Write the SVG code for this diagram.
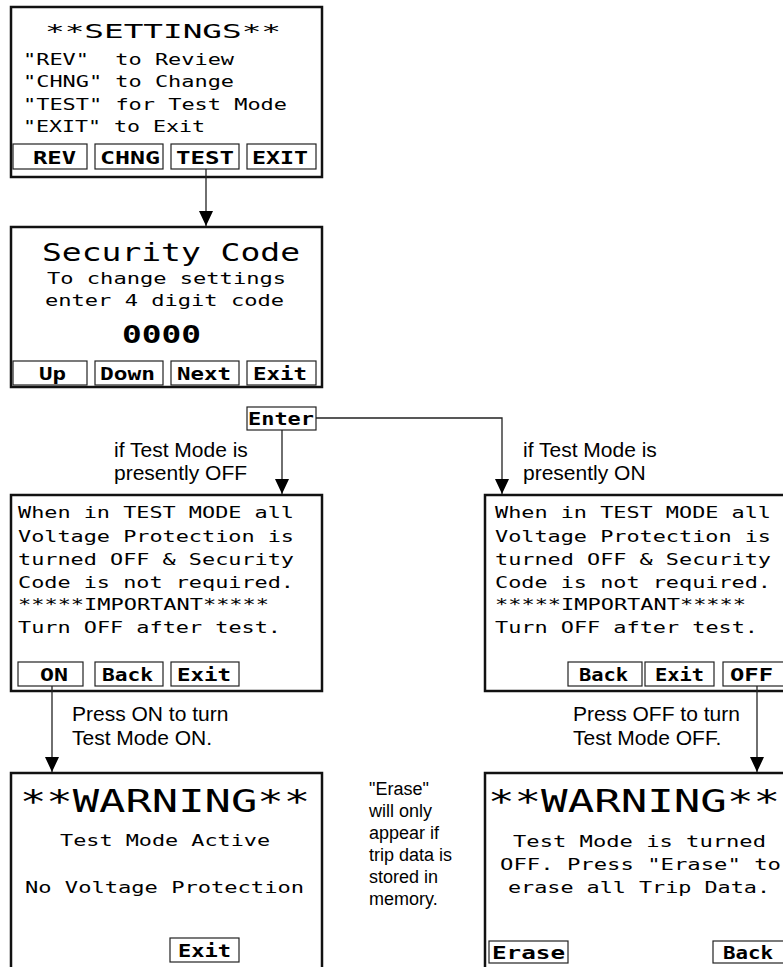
<svg xmlns="http://www.w3.org/2000/svg" width="783" height="967" viewBox="0 0 783 967">
<style>
.scr{fill:#fff;stroke:#111;stroke-width:2.5}
.btn{fill:#fff;stroke:#222;stroke-width:1.2}
.lcd{font-family:"DejaVu Sans Mono","Liberation Mono",monospace;font-size:16px;fill:#000}
.lcdb{font-family:"DejaVu Sans Mono","Liberation Mono",monospace;font-size:18px;font-weight:bold;fill:#000}
.t20{font-size:20px}
.t24{font-size:24px}
.t32{font-size:32px}
.note{font-family:"Liberation Sans",Arial,sans-serif;font-size:21px;fill:#000}
.note18{font-family:"Liberation Sans",Arial,sans-serif;font-size:18px;fill:#000}
.con{fill:none;stroke:#222;stroke-width:1.3}
</style>
<defs>
<marker id="arr" markerUnits="userSpaceOnUse" viewBox="0 0 15 14" refX="15" refY="7" markerWidth="15" markerHeight="14" orient="auto">
<path d="M0,0 L15,7 L0,14 z" fill="#000"/>
</marker>
</defs>
<rect width="783" height="967" fill="#fff"/>

<g id="settings">
<rect class="scr" x="11" y="7" width="311" height="170"/>
<text class="lcd t20" x="45" y="38" textLength="236" lengthAdjust="spacingAndGlyphs">**SETTINGS**</text>
<text class="lcd" x="23" y="65" xml:space="preserve" textLength="211" lengthAdjust="spacingAndGlyphs">"REV"  to Review</text>
<text class="lcd" x="23" y="87" textLength="211" lengthAdjust="spacingAndGlyphs">"CHNG" to Change</text>
<text class="lcd" x="23" y="110" textLength="264" lengthAdjust="spacingAndGlyphs">"TEST" for Test Mode</text>
<text class="lcd" x="23" y="132" textLength="182" lengthAdjust="spacingAndGlyphs">"EXIT" to Exit</text>
<rect class="btn" x="13" y="144" width="74" height="25"/>
<rect class="btn" x="95" y="144" width="68" height="25"/>
<rect class="btn" x="171" y="144" width="68" height="25"/>
<rect class="btn" x="247" y="144" width="69" height="25"/>
<text class="lcdb" x="33" y="164" textLength="43" lengthAdjust="spacingAndGlyphs">REV</text>
<text class="lcdb" x="100" y="164" textLength="60" lengthAdjust="spacingAndGlyphs">CHNG</text>
<text class="lcdb" x="176" y="164" textLength="58" lengthAdjust="spacingAndGlyphs">TEST</text>
<text class="lcdb" x="252" y="164" textLength="56" lengthAdjust="spacingAndGlyphs">EXIT</text>
</g>

<g id="security">
<rect class="scr" x="11" y="227" width="311" height="160"/>
<text class="lcd t24" x="42" y="261" textLength="258" lengthAdjust="spacingAndGlyphs">Security Code</text>
<text class="lcd" x="47" y="284" textLength="239" lengthAdjust="spacingAndGlyphs">To change settings</text>
<text class="lcd" x="45" y="306" textLength="239" lengthAdjust="spacingAndGlyphs">enter 4 digit code</text>
<text class="lcdb t24" x="122" y="343" textLength="79" lengthAdjust="spacingAndGlyphs">0000</text>
<rect class="btn" x="13" y="361" width="74" height="24"/>
<rect class="btn" x="95" y="361" width="68" height="24"/>
<rect class="btn" x="171" y="361" width="68" height="24"/>
<rect class="btn" x="247" y="361" width="69" height="24"/>
<text class="lcdb" x="39" y="380" textLength="27" lengthAdjust="spacingAndGlyphs">Up</text>
<text class="lcdb" x="100" y="380" textLength="55" lengthAdjust="spacingAndGlyphs">Down</text>
<text class="lcdb" x="177" y="380" textLength="54" lengthAdjust="spacingAndGlyphs">Next</text>
<text class="lcdb" x="253" y="380" textLength="54" lengthAdjust="spacingAndGlyphs">Exit</text>
</g>

<g id="enter">
<rect class="btn" x="247" y="407" width="69" height="23"/>
<text class="lcdb" x="248" y="425" textLength="66" lengthAdjust="spacingAndGlyphs">Enter</text>
</g>

<g id="testmode-off">
<rect class="scr" x="11" y="495" width="311" height="196"/>
<text class="lcd" x="18" y="518" textLength="276" lengthAdjust="spacingAndGlyphs">When in TEST MODE all</text>
<text class="lcd" x="18" y="542" textLength="276" lengthAdjust="spacingAndGlyphs">Voltage Protection is</text>
<text class="lcd" x="18" y="565" textLength="276" lengthAdjust="spacingAndGlyphs">turned OFF &amp; Security</text>
<text class="lcd" x="18" y="588" textLength="276" lengthAdjust="spacingAndGlyphs">Code is not required.</text>
<text class="lcd" x="18" y="610" textLength="251" lengthAdjust="spacingAndGlyphs">*****IMPORTANT*****</text>
<text class="lcd" x="18" y="633" textLength="263" lengthAdjust="spacingAndGlyphs">Turn OFF after test.</text>
<rect class="btn" x="18" y="662" width="65" height="24"/>
<rect class="btn" x="95" y="662" width="68" height="24"/>
<rect class="btn" x="171" y="662" width="68" height="24"/>
<text class="lcdb" x="40" y="681" textLength="28" lengthAdjust="spacingAndGlyphs">ON</text>
<text class="lcdb" x="102" y="681" textLength="51" lengthAdjust="spacingAndGlyphs">Back</text>
<text class="lcdb" x="177" y="681" textLength="54" lengthAdjust="spacingAndGlyphs">Exit</text>
</g>

<g id="testmode-on">
<rect class="scr" x="485" y="495" width="311" height="196"/>
<text class="lcd" x="495" y="518" textLength="276" lengthAdjust="spacingAndGlyphs">When in TEST MODE all</text>
<text class="lcd" x="495" y="542" textLength="276" lengthAdjust="spacingAndGlyphs">Voltage Protection is</text>
<text class="lcd" x="495" y="565" textLength="276" lengthAdjust="spacingAndGlyphs">turned OFF &amp; Security</text>
<text class="lcd" x="495" y="588" textLength="276" lengthAdjust="spacingAndGlyphs">Code is not required.</text>
<text class="lcd" x="495" y="610" textLength="251" lengthAdjust="spacingAndGlyphs">*****IMPORTANT*****</text>
<text class="lcd" x="495" y="633" textLength="263" lengthAdjust="spacingAndGlyphs">Turn OFF after test.</text>
<rect class="btn" x="568" y="662" width="74" height="24"/>
<rect class="btn" x="645" y="662" width="69" height="24"/>
<rect class="btn" x="723" y="662" width="70" height="24"/>
<text class="lcdb" x="579" y="681" textLength="49" lengthAdjust="spacingAndGlyphs">Back</text>
<text class="lcdb" x="655" y="681" textLength="49" lengthAdjust="spacingAndGlyphs">Exit</text>
<text class="lcdb" x="730" y="681" textLength="43" lengthAdjust="spacingAndGlyphs">OFF</text>
</g>

<g id="warning-on">
<rect class="scr" x="11" y="773" width="311" height="210"/>
<text class="lcd t32" x="20" y="812" textLength="290" lengthAdjust="spacingAndGlyphs">**WARNING**</text>
<text class="lcd" x="60" y="846" textLength="210" lengthAdjust="spacingAndGlyphs">Test Mode Active</text>
<text class="lcd" x="25" y="893" textLength="279" lengthAdjust="spacingAndGlyphs">No Voltage Protection</text>
<rect class="btn" x="170" y="938" width="69" height="24"/>
<text class="lcdb" x="178" y="957" textLength="53" lengthAdjust="spacingAndGlyphs">Exit</text>
</g>

<g id="warning-off">
<rect class="scr" x="485" y="773" width="311" height="210"/>
<text class="lcd t32" x="488" y="812" textLength="292" lengthAdjust="spacingAndGlyphs">**WARNING**</text>
<text class="lcd" x="513" y="847" textLength="253" lengthAdjust="spacingAndGlyphs">Test Mode is turned</text>
<text class="lcd" x="500" y="870" textLength="281" lengthAdjust="spacingAndGlyphs">OFF. Press "Erase" to</text>
<text class="lcd" x="508" y="893" textLength="262" lengthAdjust="spacingAndGlyphs">erase all Trip Data.</text>
<rect class="btn" x="489" y="941" width="79" height="22"/>
<text class="lcdb" x="492" y="959" textLength="73" lengthAdjust="spacingAndGlyphs">Erase</text>
<rect class="btn" x="713" y="941" width="76" height="22"/>
<text class="lcdb" x="723" y="959" textLength="50" lengthAdjust="spacingAndGlyphs">Back</text>
</g>

<g id="labels">
<text class="note" x="114" y="457">if Test Mode is</text>
<text class="note" x="114" y="480">presently OFF</text>
<text class="note" x="523" y="457">if Test Mode is</text>
<text class="note" x="523" y="480">presently ON</text>
<text class="note" x="72" y="721">Press ON to turn</text>
<text class="note" x="72" y="745">Test Mode ON.</text>
<text class="note" x="573" y="721">Press OFF to turn</text>
<text class="note" x="573" y="745">Test Mode OFF.</text>
<text class="note18" x="369" y="795">"Erase"</text>
<text class="note18" x="369" y="817">will only</text>
<text class="note18" x="369" y="839">appear if</text>
<text class="note18" x="369" y="861">trip data is</text>
<text class="note18" x="369" y="883">stored in</text>
<text class="note18" x="369" y="905">memory.</text>
</g>

<g id="connectors">
<path class="con" d="M206,169 V226" marker-end="url(#arr)"/>
<path class="con" d="M282,430 V494" marker-end="url(#arr)"/>
<path class="con" d="M316,418 H502 V494" marker-end="url(#arr)"/>
<path class="con" d="M52,686 V772" marker-end="url(#arr)"/>
<path class="con" d="M757,686 V772" marker-end="url(#arr)"/>
</g>
</svg>
